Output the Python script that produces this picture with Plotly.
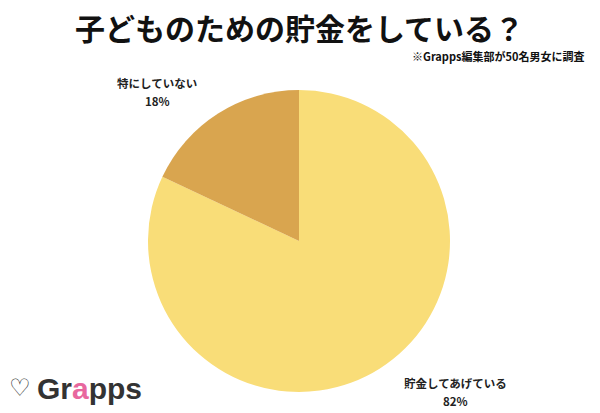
import plotly.graph_objects as go

labels = ["貯金してあげている", "特にしていない"]
values = [82, 18]
colors = ["#F9DD78", "#D9A54F"]

title_text = "子どものための貯金をしている？"
note_text = "※Grapps編集部が50名男女に調査"

W, H = 600, 413
fig = go.Figure(go.Pie(
    labels=labels,
    values=values,
    marker=dict(colors=colors, line=dict(width=0)),
    direction="clockwise",
    sort=False,
    rotation=0,
    textinfo="none",
    hoverinfo="label+percent",
    domain=dict(x=[146 / W, 452 / W], y=[1 - 392 / H, 1 - 90 / H]),
    showlegend=False,
))

font_jp = "Noto Sans CJK JP"
ann = []
ann.append(dict(text=f"<b>{title_text}</b>", x=299 / W, y=1 - 27 / H, xref="paper", yref="paper",
                showarrow=False, font=dict(family=font_jp, size=30, color="#111111"),
                xanchor="center", yanchor="middle"))
ann.append(dict(text=f"<b>{note_text}</b>", x=586 / W, y=1 - 56 / H, xref="paper", yref="paper",
                showarrow=False, font=dict(family=font_jp, size=11, color="#111111"),
                xanchor="right", yanchor="middle"))
label_pos = {labels[0]: (455, 383), labels[1]: (157, 83)}
for lab, v in zip(labels, values):
    px, py = label_pos[lab]
    ann.append(dict(text=f"<b>{lab}</b>", x=px / W, y=1 - py / H, xref="paper", yref="paper",
                    showarrow=False, font=dict(family=font_jp, size=11.5, color="#222222"),
                    xanchor="center", yanchor="middle"))
    ann.append(dict(text=f"<b>{v}%</b>", x=px / W, y=1 - (py + 18) / H, xref="paper", yref="paper",
                    showarrow=False, font=dict(family=font_jp, size=11.5, color="#222222"),
                    xanchor="center", yanchor="middle"))
# logo
ann.append(dict(text="♡", x=20 / W, y=1 - 388 / H, xref="paper", yref="paper", showarrow=False,
                font=dict(family="DejaVu Sans", size=24, color="#333333"), xanchor="center", yanchor="middle"))
ann.append(dict(text="<b>Gr<span style='color:#E8679E'>a</span>pps</b>", x=35 / W, y=1 - 388 / H,
                xref="paper", yref="paper", showarrow=False,
                font=dict(family="Liberation Sans", size=30, color="#333333"), xanchor="left", yanchor="middle"))

fig.update_layout(
    width=W, height=H,
    margin=dict(l=0, r=0, t=0, b=0),
    paper_bgcolor="white", plot_bgcolor="white",
    annotations=ann,
)
fig.write_html("out.html", config={"displayModeBar": False})

with open("out.html", encoding="utf-8") as f:
    html = f.read()
html = html.replace("<body>", "<body style=\"margin:0;padding:0;\">", 1)
with open("out.html", "w", encoding="utf-8") as f:
    f.write(html)
